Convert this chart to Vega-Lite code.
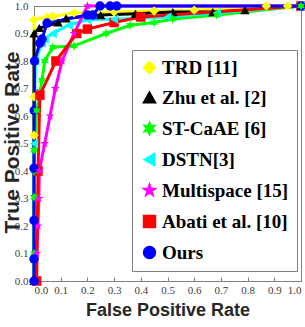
{
  "$schema": "https://vega.github.io/schema/vega-lite/v6.json",
  "width": 267,
  "height": 275,
  "autosize": "none",
  "padding": {"left": 34, "top": 6, "right": 4, "bottom": 46},
  "background": "white",
  "config": {
    "view": {"stroke": "#808080", "strokeWidth": 1},
    "axis": {"grid": false, "domainColor": "#808080", "tickColor": "#808080", "labelColor": "#404040", "labelFont": "Liberation Sans Narrow", "labelFontSize": 11, "titleFont": "Liberation Sans", "titleFontWeight": "bold", "titleFontSize": 18, "titleColor": "#262626"}
  },
  "data": {"values": [
    {"s":"TRD [11]","i":0,"x":0,"y":0},
    {"s":"TRD [11]","i":1,"x":0,"y":0.53},
    {"s":"TRD [11]","i":2,"x":0,"y":0.67},
    {"s":"TRD [11]","i":3,"x":0,"y":0.95},
    {"s":"TRD [11]","i":4,"x":0.05,"y":0.96},
    {"s":"TRD [11]","i":5,"x":0.07,"y":0.962},
    {"s":"TRD [11]","i":6,"x":0.15,"y":0.975},
    {"s":"TRD [11]","i":7,"x":0.3,"y":0.978},
    {"s":"TRD [11]","i":8,"x":0.45,"y":0.982},
    {"s":"TRD [11]","i":9,"x":0.6,"y":0.985},
    {"s":"TRD [11]","i":10,"x":0.87,"y":1.0},
    {"s":"TRD [11]","i":11,"x":0.95,"y":1.0},
    {"s":"TRD [11]","i":12,"x":1,"y":1},
    {"s":"Zhu et al. [2]","i":0,"x":0,"y":0},
    {"s":"Zhu et al. [2]","i":1,"x":0,"y":0.9},
    {"s":"Zhu et al. [2]","i":2,"x":0.02,"y":0.92},
    {"s":"Zhu et al. [2]","i":3,"x":0.09,"y":0.94},
    {"s":"Zhu et al. [2]","i":4,"x":0.12,"y":0.955},
    {"s":"Zhu et al. [2]","i":5,"x":0.25,"y":0.967},
    {"s":"Zhu et al. [2]","i":6,"x":0.38,"y":0.972},
    {"s":"Zhu et al. [2]","i":7,"x":0.52,"y":0.978},
    {"s":"Zhu et al. [2]","i":8,"x":0.67,"y":0.978},
    {"s":"Zhu et al. [2]","i":9,"x":0.79,"y":0.985},
    {"s":"Zhu et al. [2]","i":10,"x":1,"y":1},
    {"s":"ST-CaAE [6]","i":0,"x":0,"y":0},
    {"s":"ST-CaAE [6]","i":1,"x":0,"y":0.1},
    {"s":"ST-CaAE [6]","i":2,"x":0,"y":0.305},
    {"s":"ST-CaAE [6]","i":3,"x":0,"y":0.4},
    {"s":"ST-CaAE [6]","i":4,"x":0,"y":0.476},
    {"s":"ST-CaAE [6]","i":5,"x":0.01,"y":0.62},
    {"s":"ST-CaAE [6]","i":6,"x":0.03,"y":0.73},
    {"s":"ST-CaAE [6]","i":7,"x":0.04,"y":0.8},
    {"s":"ST-CaAE [6]","i":8,"x":0.07,"y":0.85},
    {"s":"ST-CaAE [6]","i":9,"x":0.15,"y":0.855},
    {"s":"ST-CaAE [6]","i":10,"x":0.27,"y":0.9},
    {"s":"ST-CaAE [6]","i":11,"x":0.36,"y":0.93},
    {"s":"ST-CaAE [6]","i":12,"x":0.45,"y":0.94},
    {"s":"ST-CaAE [6]","i":13,"x":0.52,"y":0.953},
    {"s":"ST-CaAE [6]","i":14,"x":0.685,"y":0.967},
    {"s":"ST-CaAE [6]","i":15,"x":1,"y":1},
    {"s":"DSTN[3]","i":0,"x":0,"y":0},
    {"s":"DSTN[3]","i":1,"x":0,"y":0.5},
    {"s":"DSTN[3]","i":2,"x":0.005,"y":0.8},
    {"s":"DSTN[3]","i":3,"x":0.03,"y":0.865},
    {"s":"DSTN[3]","i":4,"x":0.04,"y":0.88},
    {"s":"DSTN[3]","i":5,"x":0.07,"y":0.9},
    {"s":"DSTN[3]","i":6,"x":0.13,"y":0.93},
    {"s":"DSTN[3]","i":7,"x":0.2,"y":0.95},
    {"s":"DSTN[3]","i":8,"x":0.3,"y":0.952},
    {"s":"DSTN[3]","i":9,"x":0.5,"y":0.96},
    {"s":"DSTN[3]","i":10,"x":0.685,"y":0.975},
    {"s":"DSTN[3]","i":11,"x":1,"y":1},
    {"s":"Multispace [15]","i":0,"x":0.005,"y":0},
    {"s":"Multispace [15]","i":1,"x":0.01,"y":0.1},
    {"s":"Multispace [15]","i":2,"x":0.015,"y":0.2},
    {"s":"Multispace [15]","i":3,"x":0.018,"y":0.3},
    {"s":"Multispace [15]","i":4,"x":0.02,"y":0.4},
    {"s":"Multispace [15]","i":5,"x":0.04,"y":0.5},
    {"s":"Multispace [15]","i":6,"x":0.06,"y":0.6},
    {"s":"Multispace [15]","i":7,"x":0.08,"y":0.7},
    {"s":"Multispace [15]","i":8,"x":0.105,"y":0.8},
    {"s":"Multispace [15]","i":9,"x":0.15,"y":0.9},
    {"s":"Multispace [15]","i":10,"x":0.2,"y":1.0},
    {"s":"Multispace [15]","i":11,"x":0.3,"y":1.0},
    {"s":"Multispace [15]","i":12,"x":1,"y":1},
    {"s":"Abati et al. [10]","i":0,"x":0.01,"y":0},
    {"s":"Abati et al. [10]","i":1,"x":0.015,"y":0.4},
    {"s":"Abati et al. [10]","i":2,"x":0.022,"y":0.676},
    {"s":"Abati et al. [10]","i":3,"x":0.082,"y":0.8},
    {"s":"Abati et al. [10]","i":4,"x":0.16,"y":0.9},
    {"s":"Abati et al. [10]","i":5,"x":0.2,"y":0.916},
    {"s":"Abati et al. [10]","i":6,"x":0.3,"y":0.94},
    {"s":"Abati et al. [10]","i":7,"x":0.4,"y":0.96},
    {"s":"Abati et al. [10]","i":8,"x":1,"y":1},
    {"s":"Ours","i":0,"x":0,"y":0},
    {"s":"Ours","i":1,"x":0,"y":0.08},
    {"s":"Ours","i":2,"x":0,"y":0.22},
    {"s":"Ours","i":3,"x":0,"y":0.41},
    {"s":"Ours","i":4,"x":0.001,"y":0.62},
    {"s":"Ours","i":5,"x":0.002,"y":0.8},
    {"s":"Ours","i":6,"x":0.022,"y":0.865},
    {"s":"Ours","i":7,"x":0.03,"y":0.88},
    {"s":"Ours","i":8,"x":0.049,"y":0.938},
    {"s":"Ours","i":9,"x":0.2,"y":0.967},
    {"s":"Ours","i":10,"x":0.22,"y":0.967},
    {"s":"Ours","i":11,"x":0.247,"y":1.0},
    {"s":"Ours","i":12,"x":0.285,"y":1.0},
    {"s":"Ours","i":13,"x":0.31,"y":1.0},
    {"s":"Ours","i":14,"x":1,"y":1}
  ]},
  "encoding": {
    "x": {"field": "x", "type": "quantitative", "scale": {"domain": [0, 1], "nice": false},
      "axis": {"title": "False Positive Rate", "values": [0,0.1,0.2,0.3,0.4,0.5,0.6,0.7,0.8,0.9,1], "tickSize": -4, "labelPadding": 7, "titlePadding": 6}},
    "y": {"field": "y", "type": "quantitative", "scale": {"domain": [0, 1], "nice": false},
      "axis": {"title": "True Positive Rate", "titleFontSize": 21, "values": [0,0.1,0.2,0.3,0.4,0.5,0.6,0.7,0.8,0.9,1], "tickSize": -4, "labelPadding": 10, "titleX": -22, "titleBaseline": "middle", "titleY": 136}},
    "color": {"field": "s", "type": "nominal",
      "scale": {"domain": ["TRD [11]","Zhu et al. [2]","ST-CaAE [6]","DSTN[3]","Multispace [15]","Abati et al. [10]","Ours"],
                "range": ["#FFFF00","#000000","#00FF00","#00FFFF","#FF00FF","#FF0000","#0000FF"]},
      "legend": {"title": null, "orient": "none", "legendX": 98, "legendY": 44, "strokeColor": "#808080", "fillColor": "white", "padding": 8,
        "labelFont": "Liberation Sans Narrow", "labelFontWeight": "bold", "labelFontSize": 19, "labelColor": "#000000", "symbolSize": 130, "rowPadding": 10, "labelOffset": 3, "symbolStrokeWidth": 2}},
    "shape": {"field": "s", "type": "nominal",
      "scale": {"domain": ["TRD [11]","Zhu et al. [2]","ST-CaAE [6]","DSTN[3]","Multispace [15]","Abati et al. [10]","Ours"],
                "range": ["diamond","triangle-up","M0,-1L0.25,-0.43L0.87,-0.5L0.5,0L0.87,0.5L0.25,0.43L0,1L-0.25,0.43L-0.87,0.5L-0.5,0L-0.87,-0.5L-0.25,-0.43Z","triangle-left","M0,-1L0.24,-0.33L0.95,-0.31L0.38,0.12L0.59,0.81L0,0.4L-0.59,0.81L-0.38,0.12L-0.95,-0.31L-0.24,-0.33Z","square","circle"]},
      "legend": null},
    "order": {"field": "i", "type": "quantitative"}
  },
  "layer": [
    {"mark": {"type": "line", "strokeWidth": 3, "clip": false}, "encoding": {"shape": null}},
    {"mark": {"type": "point", "filled": true, "opacity": 1, "size": 90, "clip": false}}
  ]
}
